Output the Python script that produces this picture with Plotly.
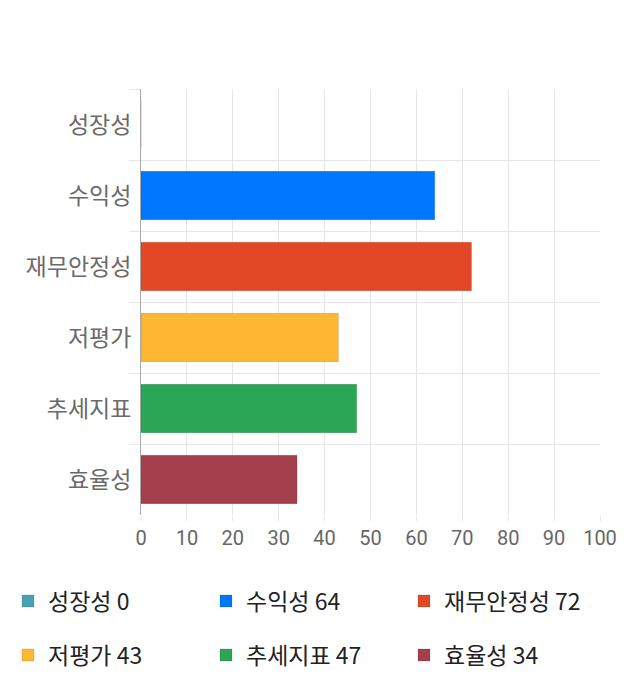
import plotly.graph_objects as go

categories = ["성장성", "수익성", "재무안정성", "저평가", "추세지표", "효율성"]
values = [0, 64, 72, 43, 47, 34]
colors = ["#4aa0b8", "#0077ff", "#e24726", "#fdb733", "#2aa655", "#a4404e"]
x_ticks = [0, 10, 20, 30, 40, 50, 60, 70, 80, 90, 100]

FONT = "Noto Sans CJK KR"

# legend slot positions (pixels): item origin x, row centre y
leg_x = [0, 198, 396, 0, 198, 396]
leg_y = [593, 593, 593, 647, 647, 647]

fig = go.Figure()
layout_legends = {}
for i, (c, v, col) in enumerate(zip(categories, values, colors)):
    lname = "legend" if i == 0 else f"legend{i+1}"
    fig.add_trace(go.Bar(
        y=[c], x=[v], orientation="h", name=f"{c} {v}",
        marker=dict(color=col, line=dict(color="rgba(0,0,0,0.12)", width=1)),
        width=0.68,
        legend=lname,
        showlegend=True,
        hoverinfo="skip",
    ))
    layout_legends[lname] = dict(
        xref="container", yref="container",
        x=leg_x[i] / 640, xanchor="left",
        y=1 - leg_y[i] / 700, yanchor="middle",
        orientation="h", borderwidth=0,
        font=dict(size=23, color="#222222", family=FONT),
    )

fig.update_layout(
    width=640, height=700,
    margin=dict(l=133, r=48, t=81, b=193),
    plot_bgcolor="white", paper_bgcolor="white",
    barmode="relative",
    showlegend=True,
    font=dict(family=FONT),
    xaxis=dict(
        range=[0, 100], tickvals=x_ticks, showgrid=True, gridcolor="#e6e6e6",
        zeroline=False, ticks="outside", ticklen=5, tickcolor="#e6e6e6",
        tickfont=dict(size=20, color="#666666", family="Roboto"),
        fixedrange=True, automargin=False,
    ),
    yaxis=dict(
        categoryorder="array", categoryarray=categories,
        range=[5.5, -0.5], tickson="boundaries", showgrid=True,
        gridcolor="#e6e6e6", ticks="outside", ticklen=11, tickcolor="#e6e6e6",
        showline=True, linecolor="#aaaaaa", linewidth=1,
        tickfont=dict(size=23, color="#6a6a6a"),
        ticklabelstandoff=4,
        automargin=False,
    ),
    **layout_legends,
)

fig.write_html("out.html")
